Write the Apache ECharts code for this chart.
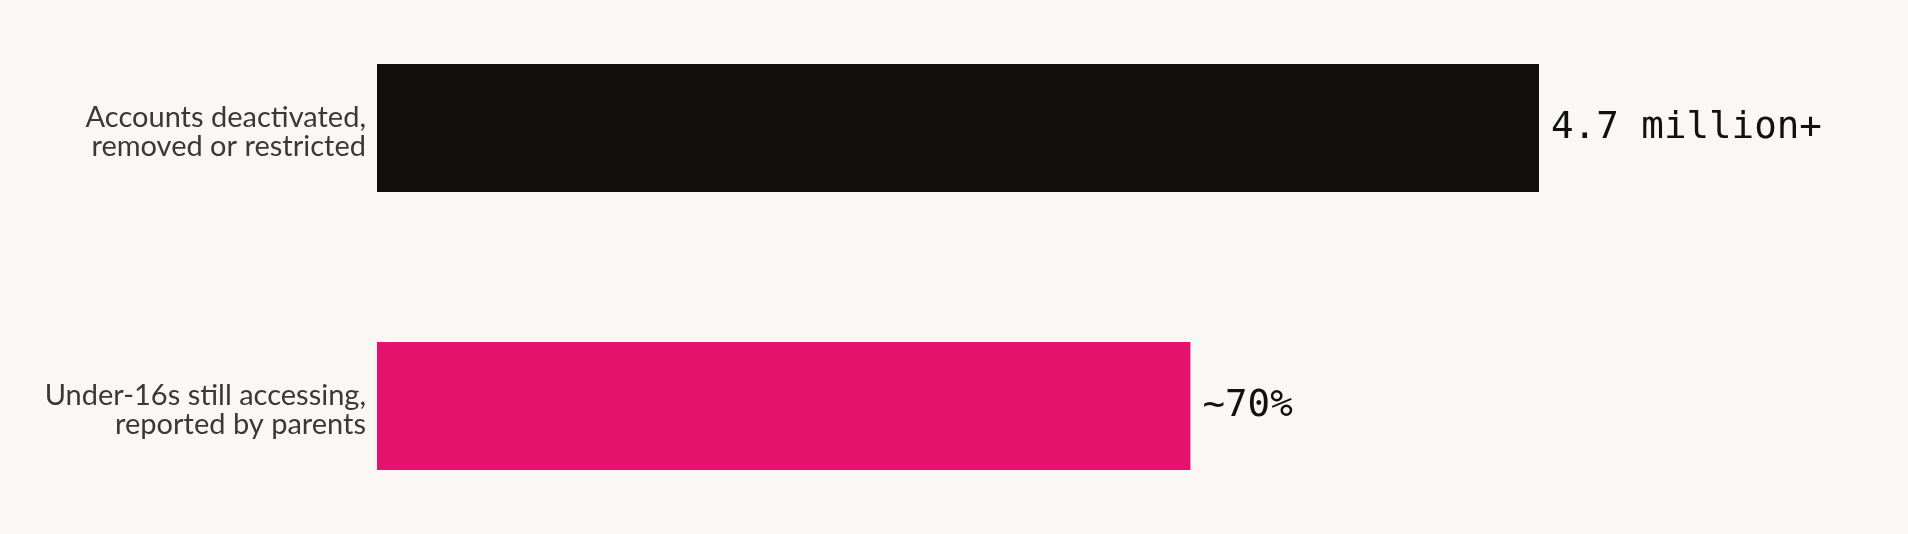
<!DOCTYPE html>
<html>
<head>
<meta charset="utf-8">
<script src="https://cdn.jsdelivr.net/npm/echarts@6/dist/echarts.min.js"></script>
<style>
html,body{margin:0;padding:0;background:#faf7f4;}
#chart{width:1908px;height:534px;}
</style>
</head>
<body>
<div id="chart"></div>
<script>
const categories = ['Accounts deactivated,\nremoved or restricted', 'Under-16s still accessing,\nreported by parents'];
const values = [100, 70];
const valueLabels = ['4.7 million+', '~70%'];
const barColors = ['#11100e', '#e5126e'];

const chart = echarts.init(document.getElementById('chart'));
chart.setOption({
  backgroundColor: '#faf7f4',
  animation: false,
  grid: { left: 377, right: 369, top: 128, bottom: 128, containLabel: false },
  xAxis: {
    type: 'value', min: 0, max: 100, show: false
  },
  yAxis: {
    type: 'category',
    inverse: true,
    boundaryGap: false,
    data: categories,
    axisLine: { show: false },
    axisTick: { show: false },
    splitLine: { show: false },
    axisLabel: {
      margin: 11,
      align: 'right',
      formatter: v => '{s| }\n' + v.split('\n').map(l => '{a|' + l + '}').join('\n'),
      rich: {
        s: { fontSize: 1, lineHeight: 8 },
        a: {
          fontFamily: 'Lato',
          fontSize: 29,
          lineHeight: 29,
          color: '#3b3835',
          align: 'right'
        }
      }
    }
  },
  series: [{
    type: 'bar',
    barWidth: 128,
    data: values.map((v, i) => ({ value: v, itemStyle: { color: barColors[i] } })),
    label: {
      show: true,
      position: 'right',
      distance: 12,
      padding: [2, 0, 0, 0],
      fontFamily: 'DejaVu Sans Mono',
      fontSize: 37.5,
      color: '#111111',
      formatter: p => valueLabels[p.dataIndex]
    }
  }]
});
</script>
</body>
</html>
